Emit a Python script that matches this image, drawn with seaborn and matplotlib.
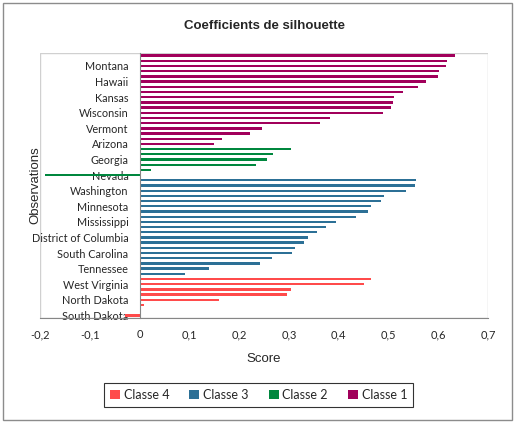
import matplotlib
matplotlib.use("Agg")
import matplotlib.pyplot as plt
from matplotlib.patches import Rectangle
from matplotlib.ticker import FuncFormatter
import numpy as np
import pandas as pd
import seaborn as sns

# scores par classe, de bas en haut du graphique
classe4 = [-0.03, 0.003, 0.009, 0.160, 0.297, 0.305, 0.450, 0.464]
classe3 = [0.092, 0.140, 0.242, 0.267, 0.307, 0.313, 0.331, 0.339, 0.357, 0.375,
           0.395, 0.434, 0.458, 0.464, 0.486, 0.492, 0.536, 0.554, 0.556]
classe2 = [-0.190, 0.022, 0.234, 0.257, 0.269, 0.305]
classe1 = [0.149, 0.165, 0.222, 0.246, 0.363, 0.383, 0.490, 0.506, 0.510, 0.512,
           0.530, 0.560, 0.576, 0.599, 0.601, 0.616, 0.618, 0.633]

# observations affichees sur l'axe (une sur trois)
shown_labels = ["South Dakota", "North Dakota", "West Virginia", "Tennessee",
                "South Carolina", "District of Columbia", "Mississippi", "Minnesota",
                "Washington", "Nevada", "Georgia", "Arizona", "Vermont", "Wisconsin",
                "Kansas", "Hawaii", "Montana"]

class_names = ["Classe 4", "Classe 3", "Classe 2", "Classe 1"]
colors = {"Classe 4": "#FF4B4B", "Classe 3": "#2C7096",
          "Classe 2": "#00873E", "Classe 1": "#A1005B"}

scores = classe4 + classe3 + classe2 + classe1
classes = (["Classe 4"] * len(classe4) + ["Classe 3"] * len(classe3)
           + ["Classe 2"] * len(classe2) + ["Classe 1"] * len(classe1))
n = len(scores)
obs = [f"obs{i}" for i in range(n)]
for k, name in enumerate(shown_labels):
    obs[3 * k] = name

df = pd.DataFrame({"obs": obs, "score": scores, "classe": classes})

sns.set_style("white")
plt.rcParams["font.family"] = ["Lato", "DejaVu Sans"]

fig = plt.figure(figsize=(5.17, 4.22), dpi=100)
ax = fig.add_axes([40 / 517, 1 - 318 / 422, 448 / 517, 265 / 422])

sns.barplot(data=df, x="score", y="obs", hue="classe", order=obs,
            hue_order=class_names, palette=colors, dodge=False, width=0.45,
            saturation=1, linewidth=0, orient="h", ax=ax, legend=True)

ax.set_xlim(-0.2, 0.7)
ax.set_ylim(-0.5, n - 0.5)

# axe y place sur le zero
ax.spines["left"].set_position(("data", 0))
ax.spines["left"].set_color("#868686")
ax.spines["bottom"].set_color("#868686")
ax.spines["top"].set_visible(False)
ax.spines["right"].set_visible(False)
ax.add_patch(Rectangle((0, 0), 1, 1, transform=ax.transAxes, fill=False,
                       edgecolor="#d0d0d0", lw=1, zorder=0))

ax.set_yticks(np.arange(0, n, 3))
ax.set_yticklabels(shown_labels, fontsize=7.8)
ax.set_yticks(np.arange(-0.5, n, 1), minor=True)
ax.tick_params(axis="y", which="major", length=0, pad=8)
ax.tick_params(axis="y", which="minor", length=4, color="#868686", width=0.8)

ax.set_xticks(np.arange(-0.2, 0.71, 0.1))
ax.xaxis.set_major_formatter(FuncFormatter(
    lambda v, p: "0" if abs(v) < 1e-9 else f"{v:.1f}".replace(".", ",")))
ax.tick_params(axis="x", length=5, color="#868686", labelsize=8, pad=3)

ax.set_xlabel("Score", fontsize=9.5, family=["Liberation Sans"], labelpad=9)
ax.set_ylabel("Observations", fontsize=9.5, family=["Liberation Sans"])
ax.yaxis.set_label_coords(0.003, 0.5)

ax.set_title("Coefficients de silhouette", fontsize=9.5, fontweight="bold",
             family=["Liberation Sans"], pad=17)

handles, labels = ax.get_legend_handles_labels()
ax.get_legend().remove()
fig.legend(handles, labels, loc="center", bbox_to_anchor=(0.5, 1 - 395 / 422),
           ncol=4, fontsize=9, frameon=True, fancybox=False, edgecolor="black",
           handlelength=0.8, handleheight=0.8, handletextpad=0.3,
           columnspacing=1.6, borderpad=0.5)
fig.legends[0].get_frame().set_linewidth(0.8)

fig.patches.append(Rectangle((3 / 517, 2 / 422), 509 / 517, 417 / 422,
                             transform=fig.transFigure, fill=False,
                             edgecolor="#8c8c8c", lw=1))

fig.savefig("out.png", dpi=100)
